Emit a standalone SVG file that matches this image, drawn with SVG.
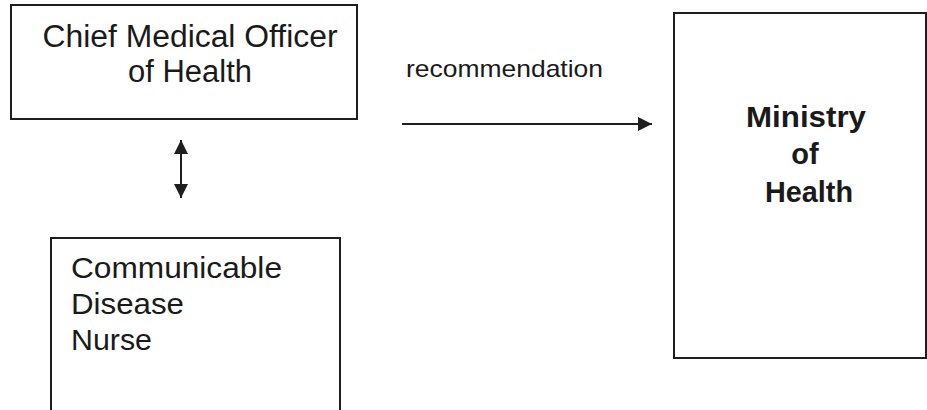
<svg xmlns="http://www.w3.org/2000/svg" width="927" height="410" viewBox="0 0 927 410">
  <style>
    .box { fill: #ffffff; stroke: #1e1e1e; stroke-width: 2; }
    .txt { font-family: "Liberation Sans", Arial, sans-serif; fill: #1a1a1a; }
    .bold { font-weight: bold; }
    .link { stroke: #1e1e1e; stroke-width: 2; fill: none; }
  </style>
  <defs>
    <marker id="head" viewBox="0 0 10 10" refX="10" refY="5" markerWidth="8.5" markerHeight="7" markerUnits="strokeWidth" orient="auto-start-reverse">
      <path d="M0,0 L10,5 L0,10 Z" fill="#1e1e1e"/>
    </marker>
  </defs>
  <rect width="927" height="410" fill="#ffffff"/>

  <g id="chief-medical-officer">
    <rect class="box" x="11" y="5" width="346" height="114"/>
    <text class="txt" font-size="31" text-anchor="middle" x="190" y="47" textLength="295" lengthAdjust="spacingAndGlyphs">Chief Medical Officer</text>
    <text class="txt" font-size="31" text-anchor="middle" x="190" y="82" textLength="124" lengthAdjust="spacingAndGlyphs">of Health</text>
  </g>

  <g id="communicable-disease-nurse">
    <rect class="box" x="51" y="238" width="289" height="180"/>
    <text class="txt" font-size="30" x="71" y="278" textLength="211" lengthAdjust="spacingAndGlyphs">Communicable</text>
    <text class="txt" font-size="30" x="71" y="314" textLength="113" lengthAdjust="spacingAndGlyphs">Disease</text>
    <text class="txt" font-size="30" x="71" y="350" textLength="81" lengthAdjust="spacingAndGlyphs">Nurse</text>
  </g>

  <g id="ministry-of-health">
    <rect class="box" x="674" y="13" width="252" height="345"/>
    <text class="txt bold" font-size="29" text-anchor="middle" x="806" y="127" textLength="120" lengthAdjust="spacingAndGlyphs">Ministry</text>
    <text class="txt bold" font-size="29" text-anchor="middle" x="805" y="164">of</text>
    <text class="txt bold" font-size="29" text-anchor="middle" x="809" y="202" textLength="88" lengthAdjust="spacingAndGlyphs">Health</text>
  </g>

  <g id="connectors">
    <line class="link" x1="181" y1="140" x2="181" y2="198" marker-start="url(#head)" marker-end="url(#head)"/>
    <line class="link" x1="402" y1="124" x2="652" y2="124" marker-end="url(#head)"/>
    <text class="txt" font-size="24" x="406" y="77" textLength="197" lengthAdjust="spacingAndGlyphs">recommendation</text>
  </g>
</svg>
